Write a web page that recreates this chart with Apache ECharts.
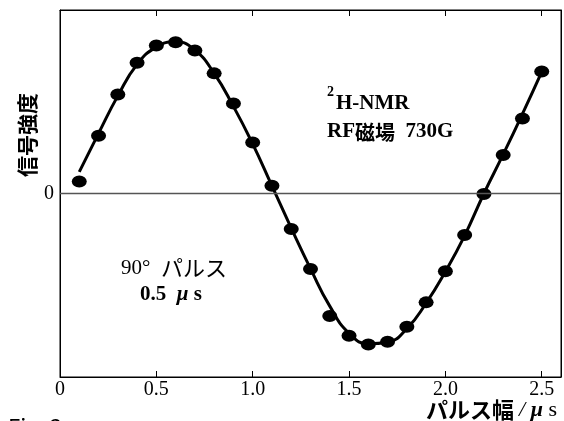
<!DOCTYPE html>
<html>
<head>
<meta charset="utf-8">
<script src="https://cdn.jsdelivr.net/npm/echarts@6/dist/echarts.min.js"></script>
<style>
  html, body { margin: 0; padding: 0; background: #fff; }
  #chart { width: 564px; height: 421px; }
</style>
</head>
<body>
<div id="chart"></div>
<script>
// Pulse widths (µs) at which the signal was measured
const pulseWidths = [0.1, 0.2, 0.3, 0.4, 0.5, 0.6, 0.7, 0.8, 0.9, 1.0,
                     1.1, 1.2, 1.3, 1.4, 1.5, 1.6, 1.7, 1.8, 1.9, 2.0,
                     2.1, 2.2, 2.3, 2.4, 2.5];
// Measured signal intensity (arbitrary units, 0 = baseline)
const measuredSignal = [0.08, 0.385, 0.66, 0.87, 0.985, 1.008, 0.952, 0.80, 0.60, 0.34,
                        0.052, -0.237, -0.503, -0.815, -0.948, -1.005, -0.988, -0.888, -0.725, -0.517,
                        -0.277, -0.003, 0.257, 0.50, 0.812];
// Fitted nutation curve through the measurements
const fittedSignal = [0.144, 0.40, 0.65, 0.86, 0.975, 1.01, 0.955, 0.80, 0.58, 0.33,
                      0.05, -0.23, -0.50, -0.75, -0.93, -1.0, -0.99, -0.90, -0.73, -0.52,
                      -0.28, 0.0, 0.26, 0.53, 0.81];
// Axis tick labels
const xTickValues = [0, 0.5, 1.0, 1.5, 2.0, 2.5];
const xTickLabels = ['0', '0.5', '1.0', '1.5', '2.0', '2.5'];
const yTickValues = [0];
const yTickLabels = ['0'];

const serif = '"Liberation Serif", "DejaVu Serif", serif';
const cjk = '"Noto Sans CJK JP", "Noto Sans", sans-serif';

const chart = echarts.init(document.getElementById('chart'), null, { renderer: 'canvas' });

const measuredPoints = pulseWidths.map((x, i) => [x, measuredSignal[i]]);
const fittedPoints = pulseWidths.map((x, i) => [x, fittedSignal[i]]);

const xRange = { min: 0, max: 2.6 };
const yRange = { min: -1.222, max: 1.222 };

chart.setOption({
  animation: false,
  backgroundColor: '#ffffff',
  grid: { left: 60, right: 3, top: 10, bottom: 44, containLabel: false,
          show: true, borderColor: '#000', borderWidth: 1, backgroundColor: 'transparent' },
  xAxis: [
    {
      type: 'value', position: 'bottom', min: xRange.min, max: xRange.max,
      axisLine: { show: true, onZero: false, lineStyle: { color: '#000', width: 1 } },
      axisTick: { show: true, inside: true, length: 6, customValues: xTickValues.slice(1),
                  lineStyle: { color: '#000', width: 1 } },
      axisLabel: {
        customValues: xTickValues,
        formatter: v => xTickLabels[xTickValues.findIndex(t => Math.abs(t - v) < 1e-6)] || '',
        color: '#000', fontFamily: serif, fontSize: 20, margin: 3
      },
      splitLine: { show: false }
    },
    {
      type: 'value', position: 'top', min: xRange.min, max: xRange.max,
      axisLine: { show: true, onZero: false, lineStyle: { color: '#000', width: 1 } },
      axisTick: { show: true, inside: true, length: 6, customValues: xTickValues.slice(1),
                  lineStyle: { color: '#000', width: 1 } },
      axisLabel: { show: false },
      splitLine: { show: false }
    }
  ],
  yAxis: [
    {
      type: 'value', position: 'left', min: yRange.min, max: yRange.max,
      axisLine: { show: true, onZero: false, lineStyle: { color: '#000', width: 1 } },
      axisTick: { show: false },
      axisLabel: {
        customValues: yTickValues,
        formatter: v => yTickLabels[yTickValues.indexOf(v)] || '',
        color: '#000', fontFamily: serif, fontSize: 20, margin: 6
      },
      splitLine: { show: false }
    },
    {
      type: 'value', position: 'right', min: yRange.min, max: yRange.max,
      axisLine: { show: true, onZero: false, lineStyle: { color: '#000', width: 1 } },
      axisTick: { show: false },
      axisLabel: { show: false },
      splitLine: { show: false }
    }
  ],
  series: [
    {
      name: 'fit', type: 'line', data: fittedPoints, smooth: 0.5,
      showSymbol: false, symbol: 'none',
      lineStyle: { color: '#000', width: 3 },
      z: 2,
      markLine: {
        silent: true, symbol: 'none', label: { show: false },
        lineStyle: { color: '#555', width: 1.3, type: 'solid' },
        data: [{ yAxis: 0 }]
      }
    },
    {
      name: 'measured', type: 'scatter', data: measuredPoints,
      symbol: 'circle', symbolSize: [15, 12],
      itemStyle: { color: '#000', opacity: 1 },
      z: 3
    },
    {
      // binds the top and right frame axes
      name: 'frame', type: 'line', xAxisIndex: 1, yAxisIndex: 1, data: [],
      silent: true, showSymbol: false
    }
  ],
  graphic: [
    { type: 'text', x: 27, y: 135, rotation: Math.PI / 2,
      style: { text: '信号強度', font: 'bold 21px ' + cjk, fill: '#000', align: 'center', verticalAlign: 'middle' } },
    { type: 'text', x: 557, y: 410,
      style: { text: '{a|パルス幅 }{b|/ }{m|μ }{s|s}', align: 'right', verticalAlign: 'middle',
        rich: {
          a: { font: 'bold 22px ' + cjk, fill: '#000' },
          b: { font: 'italic 22px ' + serif, fill: '#000' },
          m: { font: 'italic bold 22px ' + serif, fill: '#000' },
          s: { font: '22px ' + serif, fill: '#000' }
        } } },
    { type: 'text', x: 327, y: 92,
      style: { text: '2', font: 'bold 14px ' + serif, fill: '#000', align: 'left', verticalAlign: 'middle' } },
    { type: 'text', x: 336, y: 104,
      style: { text: 'H-NMR', font: 'bold 21px ' + serif, fill: '#000', align: 'left', verticalAlign: 'middle' } },
    { type: 'text', x: 327, y: 132,
      style: { text: '{r|RF}{k|磁場}{r|  730G}', align: 'left', verticalAlign: 'middle',
        rich: {
          r: { font: 'bold 21px ' + serif, fill: '#000' },
          k: { font: 'bold 20px ' + cjk, fill: '#000' }
        } } },
    { type: 'text', x: 121, y: 268,
      style: { text: '{r|90°  }{k|パルス}', align: 'left', verticalAlign: 'middle',
        rich: {
          r: { font: '21px ' + serif, fill: '#000' },
          k: { font: '22px ' + cjk, fill: '#000' }
        } } },
    { type: 'text', x: 140, y: 295,
      style: { text: '{r|0.5  }{m|μ }{r|s}', align: 'left', verticalAlign: 'middle',
        rich: {
          r: { font: 'bold 21px ' + serif, fill: '#000' },
          m: { font: 'italic bold 21px ' + serif, fill: '#000' }
        } } },
    { type: 'text', x: 8, y: 416,
      style: { text: 'Fig. 3', font: '22px ' + cjk, fill: '#000', align: 'left', verticalAlign: 'top' } }
  ]
});
</script>
</body>
</html>
